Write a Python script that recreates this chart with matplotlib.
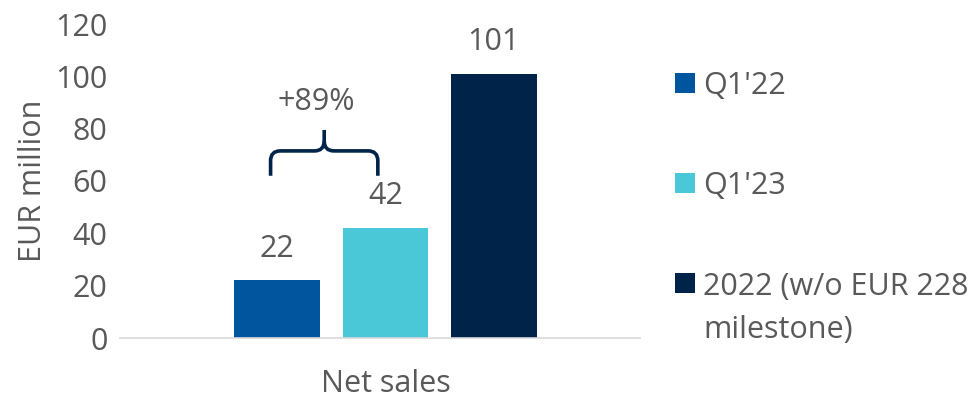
import matplotlib.pyplot as plt
import matplotlib.patches as patches
from matplotlib.path import Path

# data
category = 'Net sales'
series = ["Q1'22", "Q1'23", "2022 (w/o EUR 228\nmilestone)"]
values = [22, 42, 101]
colors = ['#00559F', '#4BC8D7', '#002349']
growth_label = '+89%'
yticks = [0, 20, 40, 60, 80, 100, 120]

TXT = '#595959'
FS = 22
plt.rcParams['font.family'] = ['Open Sans', 'DejaVu Sans']

W, H = 976, 400
fig = plt.figure(figsize=(W / 100, H / 100), dpi=100)
ax = fig.add_axes([120 / W, 62 / H, 520 / W, 314 / H])

pos = [-1.0, 0.0, 1.0]
bars = ax.bar(pos, values, width=0.79, color=colors, zorder=2)

for p, v in zip(pos, values):
    ax.annotate(str(v), (p, v), xytext=(0, 12), textcoords='offset points',
                ha='center', va='bottom', fontsize=FS, color=TXT)

ax.set_xlim(-2.45, 2.35)
ax.set_ylim(0, 120)
ax.set_yticks(yticks)
ax.set_xticks([0])
ax.set_xticklabels([category])
ax.tick_params(axis='both', length=0, labelsize=FS, labelcolor=TXT)
ax.tick_params(axis='y', pad=9)
ax.tick_params(axis='x', pad=22)
ax.set_ylabel('EUR million', fontsize=FS, color=TXT, labelpad=5)

for s in ['top', 'right', 'left']:
    ax.spines[s].set_visible(False)
ax.spines['bottom'].set_color('#D9D9D9')
ax.spines['bottom'].set_linewidth(1.2)

# growth brace between first two bars
xl, xr = pos[0] - 0.06, pos[1] - 0.07
xm = (xl + xr) / 2
yb, yh, yt = 62, 71.5, 79.5
rx, ry = 0.09, 3.8
brace_col = '#002349'
left = Path([(xl, yb), (xl, yh - ry), (xl, yh), (xl + rx, yh), (xm - rx, yh),
             (xm, yh), (xm, yh + ry), (xm, yt)],
            [Path.MOVETO, Path.LINETO, Path.CURVE3, Path.CURVE3, Path.LINETO,
             Path.CURVE3, Path.CURVE3, Path.LINETO])
right = Path([(xr, yb), (xr, yh - ry), (xr, yh), (xr - rx, yh), (xm + rx, yh),
              (xm, yh), (xm, yh + ry)],
             [Path.MOVETO, Path.LINETO, Path.CURVE3, Path.CURVE3, Path.LINETO,
              Path.CURVE3, Path.CURVE3])
for pth in (left, right):
    ax.add_patch(patches.PathPatch(pth, fill=False, edgecolor=brace_col,
                                   lw=2.6, capstyle='butt', zorder=3))
ax.text(xm - 0.07, 90, growth_label, ha='center', va='center',
        fontsize=FS, color=TXT)

# legend drawn manually (square aligned with first text line)
leg_rows = [83, 183, 283]
line_px = 44
for name, col, py in zip(series, colors, leg_rows):
    fig.patches.append(patches.Rectangle((675 / W, 1 - (py + 10) / H), 20 / W, 20 / H,
                                         transform=fig.transFigure,
                                         facecolor=col, edgecolor='none'))
    extra = name.count('\n') * line_px
    fig.text(703 / W, 1 - (py + 11 + extra) / H, name, ha='left', va='baseline',
             fontsize=FS, color=TXT, linespacing=1.55)

fig.savefig('out.png', dpi=100)
